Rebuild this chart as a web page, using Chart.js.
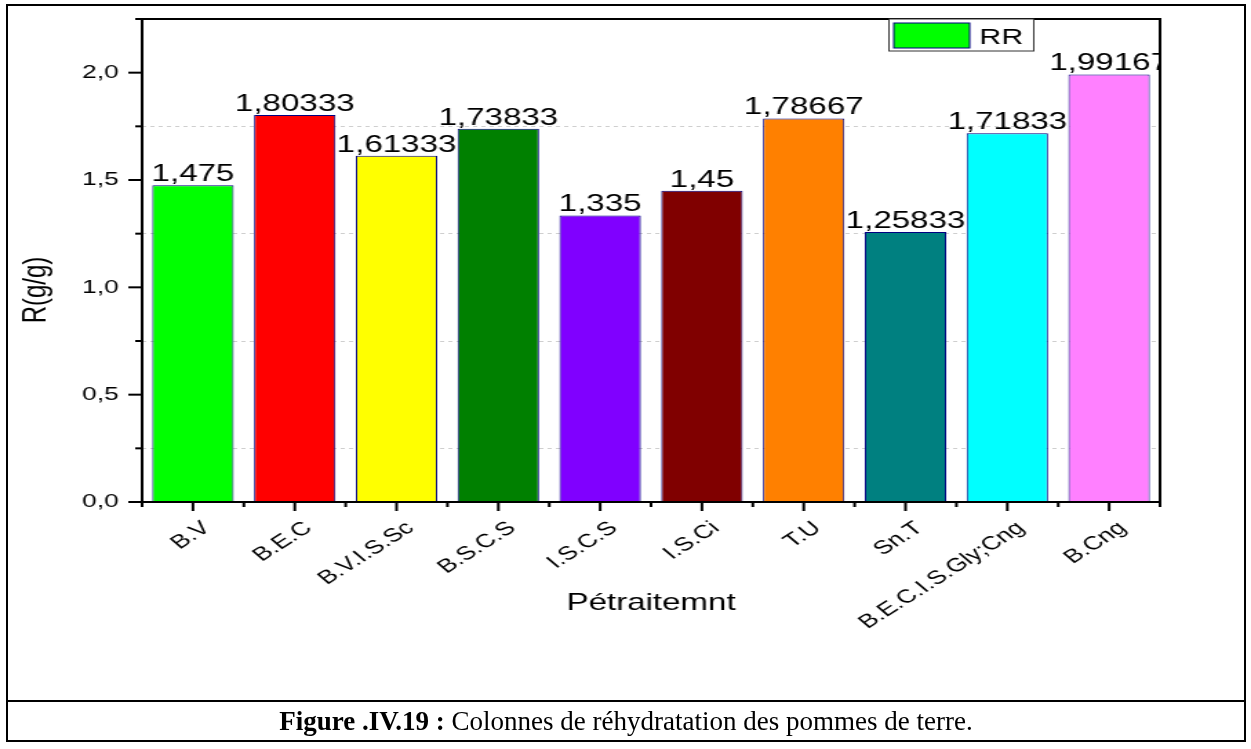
<!DOCTYPE html>
<html>
<head>
<meta charset="utf-8">
<script src="https://cdn.jsdelivr.net/npm/chart.js@4.4.1/dist/chart.umd.min.js"></script>
<style>
  html, body { margin: 0; padding: 0; background: #fff; }
  #page { position: relative; width: 1251px; height: 749px; overflow: hidden; background: #fff; }
  #plotWrap {
    position: absolute; left: 0; top: 0; width: 907px; height: 700px;
    transform: scaleX(1.3793); transform-origin: 0 0;
  }
  #box { position: absolute; left: 6px; top: 4px; width: 1236px; height: 734px; border: 2px solid #000; }
  #sep { position: absolute; left: 6px; top: 700px; width: 1240px; height: 2px; background: #000; }
  #caption {
    position: absolute; left: 8px; top: 702px; width: 1236px; height: 38px;
    line-height: 38px; text-align: center;
    font-family: "Liberation Serif", "Times New Roman", serif; font-size: 27px; color: #000;
  }
</style>
</head>
<body>
<div id="page">
  <div id="plotWrap"><canvas id="rrChart"></canvas></div>
  <div id="box"></div>
  <div id="sep"></div>
  <div id="caption"><b>Figure .IV.19 :</b> Colonnes de réhydratation des pommes de terre.</div>
</div>
<script>
// pretreatment categories and rehydration ratio R (g/g)
const categories = ['B.V', 'B.E.C', 'B.V.I.S.Sc', 'B.S.C.S', 'I.S.C.S', 'I.S.Ci', 'T.U', 'Sn.T', 'B.E.C.I.S.Gly;Cng', 'B.Cng'];
const rrValues = [1.475, 1.80333, 1.61333, 1.73833, 1.335, 1.45, 1.78667, 1.25833, 1.71833, 1.99167];
const barColors = ['#00ff00', '#ff0000', '#ffff00', '#008000', '#8000ff', '#800000', '#ff8000', '#008080', '#00ffff', '#ff80ff'];
const yMin = 0, yMax = 2.25, yStep = 0.25;

const sans = '"Liberation Sans", Arial, sans-serif';
const fmt = v => String(v).replace('.', ',');
const isMajor = v => Math.abs(v * 2 - Math.round(v * 2)) < 1e-9;

// Origin-like decorations: frame, in/out ticks, value labels, legend box, axis titles
const originStyle = {
  id: 'originStyle',
  afterDatasetsDraw(chart) {
    const { ctx, chartArea: a } = chart;
    ctx.save();
    ctx.beginPath();
    ctx.rect(a.left, a.top, a.right - a.left, a.bottom - a.top);
    ctx.clip();
    ctx.font = '24px ' + sans;
    ctx.fillStyle = '#000';
    ctx.textAlign = 'center';
    ctx.textBaseline = 'alphabetic';
    chart.getDatasetMeta(0).data.forEach((bar, i) => {
      ctx.fillText(fmt(rrValues[i]), bar.x, bar.y - 4);
    });
    ctx.restore();
  },
  afterDraw(chart) {
    const { ctx, chartArea: a, scales: { x, y } } = chart;
    ctx.save();
    ctx.strokeStyle = '#000';
    ctx.lineWidth = 2;

    // plot frame
    ctx.strokeRect(a.left, a.top, a.right - a.left, a.bottom - a.top);

    // y ticks, pointing out
    y.ticks.forEach(t => {
      const py = y.getPixelForValue(t.value);
      const len = isMajor(t.value) ? 10 : 5;
      ctx.beginPath();
      ctx.moveTo(a.left - len, py);
      ctx.lineTo(a.left, py);
      ctx.stroke();
    });

    // x ticks: major at categories, minor between them
    const n = categories.length;
    for (let i = 0; i < n; i++) {
      const px = x.getPixelForTick(i);
      ctx.beginPath();
      ctx.moveTo(px, a.bottom);
      ctx.lineTo(px, a.bottom + 9);
      ctx.stroke();
    }
    for (let i = 0; i <= n; i++) {
      const px = x.getPixelForValue(i - 0.5);
      ctx.beginPath();
      ctx.moveTo(px, a.bottom);
      ctx.lineTo(px, a.bottom + 5);
      ctx.stroke();
    }

    // legend box
    const ds = chart.data.datasets[0];
    const lx = a.right - 197, ly = a.top, lw = 105, lh = 32;
    ctx.lineWidth = 1;
    ctx.strokeStyle = '#333';
    ctx.fillStyle = '#fff';
    ctx.fillRect(lx, ly, lw, lh);
    ctx.strokeRect(lx + 0.5, ly, lw, lh);
    ctx.fillStyle = ds.backgroundColor[0];
    ctx.fillRect(lx + 4, ly + 4, 55, 25);
    ctx.strokeStyle = '#000080';
    ctx.strokeRect(lx + 4, ly + 4, 55, 25);
    ctx.fillStyle = '#000';
    ctx.font = '22px ' + sans;
    ctx.textAlign = 'left';
    ctx.textBaseline = 'alphabetic';
    ctx.fillText(ds.label, lx + 66, ly + 25);

    // axis titles
    ctx.font = '24px ' + sans;
    ctx.textAlign = 'center';
    ctx.textBaseline = 'middle';
    ctx.fillText('Pétraitemnt', (a.left + a.right) / 2, 603);
    ctx.translate(26, 290);
    ctx.rotate(-Math.PI / 2);
    ctx.fillText('R(g/g)', 0, 0);
    ctx.restore();
  }
};

new Chart(document.getElementById('rrChart'), {
  type: 'bar',
  data: {
    labels: categories,
    datasets: [{
      label: 'RR',
      data: rrValues,
      backgroundColor: barColors,
      borderColor: '#000080',
      borderWidth: 1,
      categoryPercentage: 0.8,
      barPercentage: 1.0
    }]
  },
  options: {
    responsive: true,
    maintainAspectRatio: false,
    animation: false,
    layout: { padding: { top: 19, right: 66, left: 0, bottom: 0 } },
    plugins: { legend: { display: false }, tooltip: { enabled: false } },
    scales: {
      x: {
        afterFit: s => { s.height = 198; s.paddingLeft = 0; s.paddingRight = 0; },
        grid: { display: false },
        border: { display: false },
        ticks: {
          autoSkip: false, minRotation: 41, maxRotation: 41,
          padding: 7, labelOffset: 10,
          color: '#000', font: { family: sans, size: 19 }
        }
      },
      y: {
        min: yMin, max: yMax,
        afterFit: s => { s.width = 103; s.paddingTop = 0; s.paddingBottom = 0; },
        border: { display: false, dash: [3, 3] },
        grid: {
          drawTicks: false,
          color: ctx => (ctx.tick && !isMajor(ctx.tick.value) && ctx.tick.value < yMax) ? '#cfcfcf' : 'transparent',
          lineWidth: 1
        },
        ticks: {
          stepSize: yStep, autoSkip: false, padding: 17,
          color: '#000', font: { family: sans, size: 19 },
          callback: v => isMajor(v) ? v.toFixed(1).replace('.', ',') : ''
        }
      }
    }
  },
  plugins: [originStyle]
});
</script>
</body>
</html>
